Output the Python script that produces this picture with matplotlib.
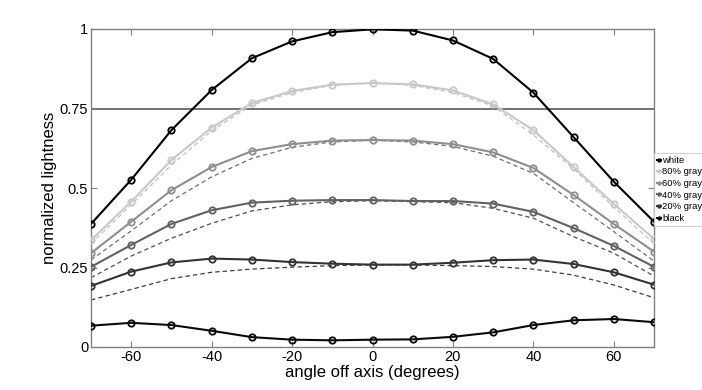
import matplotlib
matplotlib.use("Agg")
import matplotlib.pyplot as plt

plt.rcParams['font.family'] = ['Liberation Sans', 'DejaVu Sans']
plt.rcParams['axes.unicode_minus'] = False

# angles (degrees) where the lightness was measured
angles = [-70, -60, -50, -40, -30, -20, -10, 0, 10, 20, 30, 40, 50, 60, 70]

# measured lightness for each input level
white = [0.387, 0.526, 0.682, 0.808, 0.908, 0.961, 0.990, 0.999, 0.995, 0.964, 0.906, 0.800, 0.660, 0.520, 0.394]
gray80 = [0.336, 0.457, 0.588, 0.690, 0.767, 0.805, 0.825, 0.830, 0.826, 0.807, 0.763, 0.682, 0.566, 0.450, 0.340]
gray60 = [0.295, 0.394, 0.493, 0.566, 0.616, 0.638, 0.649, 0.651, 0.649, 0.638, 0.612, 0.563, 0.478, 0.387, 0.300]
gray40 = [0.252, 0.321, 0.387, 0.430, 0.454, 0.460, 0.462, 0.462, 0.459, 0.459, 0.451, 0.425, 0.374, 0.318, 0.252]
gray20 = [0.192, 0.237, 0.266, 0.278, 0.275, 0.267, 0.262, 0.259, 0.259, 0.265, 0.273, 0.275, 0.261, 0.235, 0.196]
black = [0.067, 0.076, 0.069, 0.051, 0.031, 0.023, 0.021, 0.023, 0.024, 0.032, 0.046, 0.069, 0.084, 0.088, 0.078]

# reference (dashed) curves
ref80 = [0.325, 0.447, 0.572, 0.680, 0.761, 0.800, 0.823, 0.830, 0.823, 0.800, 0.758, 0.667, 0.560, 0.440, 0.325]
ref60 = [0.274, 0.365, 0.460, 0.535, 0.593, 0.628, 0.645, 0.650, 0.645, 0.631, 0.600, 0.546, 0.454, 0.363, 0.270]
ref40 = [0.218, 0.286, 0.342, 0.389, 0.428, 0.447, 0.457, 0.460, 0.457, 0.454, 0.436, 0.405, 0.347, 0.295, 0.223]
ref20 = [0.148, 0.181, 0.215, 0.235, 0.245, 0.251, 0.256, 0.258, 0.258, 0.256, 0.253, 0.245, 0.226, 0.195, 0.155]

labels = ['white', '80% gray', '60% gray', '40% gray', '20% gray', 'black']
x_ticks = [-60, -40, -20, 0, 20, 40, 60]
y_ticks = [0, 0.25, 0.5, 0.75, 1]
y_ticklabels = ['0', '0.25', '0.5', '0.75', '1']

fig = plt.figure(figsize=(7.02, 3.9), dpi=100)
ax = fig.add_axes([91 / 702, 43 / 390, 563 / 702, 318 / 390])

# dashed reference curves
ref_colors = ['#c0c0c0', '#6e6e6e', '#4f4f4f', '#3c3c3c']
for ref, c in zip([ref80, ref60, ref40, ref20], ref_colors):
    ax.plot(angles, ref, color=c, lw=0.9, ls=(0, (3.5, 2.5)), zorder=2)

ax.axhline(0.75, color='#4a4a4a', lw=1.1, zorder=1)

# measured curves
series = [white, gray80, gray60, gray40, gray20, black]
colors = ['#000000', '#c8c8c8', '#8e8e8e', '#626262', '#333333', '#0a0a0a']
handles = []
for s, c, lab in zip(series, colors, labels):
    h, = ax.plot(angles, s, color=c, lw=1.5, marker='o', ms=4.6, mfc='none',
                 mew=1.3, label=lab, zorder=3)
    handles.append(h)

ax.set_xlim(-70, 70)
ax.set_ylim(0, 1)
ax.set_xticks(x_ticks)
ax.set_yticks(y_ticks)
ax.set_yticklabels(y_ticklabels)
ax.tick_params(direction='in', length=4, width=0.8, color='#808080',
               labelsize=10.5, top=True, right=True, pad=2)
for sp in ax.spines.values():
    sp.set_color('#808080')
    sp.set_linewidth(1.0)

ax.set_xlabel('angle off axis (degrees)', fontsize=12, labelpad=1)
ax.set_ylabel('normalized lightness', fontsize=12, labelpad=2)

leg = fig.legend(handles=handles, labels=labels, loc='upper left',
                 bbox_to_anchor=(654 / 702, 1 - 153 / 390), fontsize=6.8,
                 handlelength=0.4, handletextpad=0.15, borderpad=0.3,
                 labelspacing=0.28, borderaxespad=0, frameon=True,
                 fancybox=False, markerscale=0.4)
leg.get_frame().set_edgecolor('#c8c8c8')
leg.get_frame().set_linewidth(0.8)

fig.savefig('out.png', dpi=100)
